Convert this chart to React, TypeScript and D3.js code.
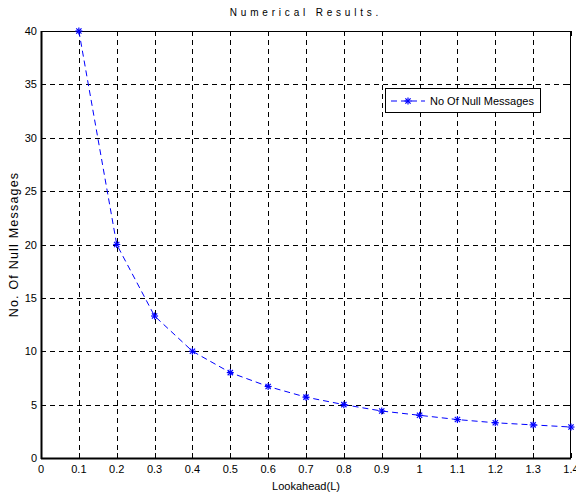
import React from 'react';
import * as d3 from 'd3';

// data
const lookahead = [0.1, 0.2, 0.3, 0.4, 0.5, 0.6, 0.7, 0.8, 0.9, 1.0, 1.1, 1.2, 1.3, 1.4];
const nullMessages = [40, 20, 13.3, 10, 8, 6.7, 5.7, 5, 4.4, 4, 3.6, 3.3, 3.1, 2.9];
const xTicks = [0, 0.1, 0.2, 0.3, 0.4, 0.5, 0.6, 0.7, 0.8, 0.9, 1, 1.1, 1.2, 1.3, 1.4];
const yTicks = [0, 5, 10, 15, 20, 25, 30, 35, 40];

const W = 576;
const H = 496;
const margin = { left: 41, right: 5, top: 31, bottom: 38 };
const font = '"Liberation Sans", Arial, sans-serif';
const blue = '#0000ff';

const x = d3.scaleLinear().domain([0, 1.4]).range([margin.left, W - margin.right]);
const y = d3.scaleLinear().domain([0, 40]).range([H - margin.bottom, margin.top]);

function Star({ cx, cy, r = 3.5 }: { cx: number; cy: number; r?: number }) {
  const d = r * 0.75;
  return (
    <g stroke={blue} strokeWidth={1.2}>
      <line x1={cx - r} y1={cy} x2={cx + r} y2={cy} />
      <line x1={cx} y1={cy - r} x2={cx} y2={cy + r} />
      <line x1={cx - d} y1={cy - d} x2={cx + d} y2={cy + d} />
      <line x1={cx - d} y1={cy + d} x2={cx + d} y2={cy - d} />
    </g>
  );
}

export default function App() {
  const x0 = x.range()[0], x1 = x.range()[1];
  const y0 = y.range()[0], y1 = y.range()[1];
  const line = d3.line<number>()
    .x((_, i) => x(lookahead[i]))
    .y((v) => y(v));
  const tk = 5;

  return (
    <svg width={W} height={H} style={{ position: 'absolute', left: 0, top: 0, background: '#fff' }}
      fontFamily={font}>
      <rect x={0} y={0} width={W} height={H} fill="#fff" />

      {/* grid */}
      <g stroke="#000" strokeWidth={1} strokeDasharray="5,4" fill="none">
        {xTicks.slice(1, -1).map((t) => (
          <line key={'gx' + t} x1={Math.round(x(t)) + 0.5} x2={Math.round(x(t)) + 0.5} y1={y1} y2={y0} />
        ))}
        {yTicks.slice(1, -1).map((t) => (
          <line key={'gy' + t} x1={x0} x2={x1} y1={Math.round(y(t)) + 0.5} y2={Math.round(y(t)) + 0.5} />
        ))}
      </g>

      {/* ticks */}
      <g stroke="#000" strokeWidth={1}>
        {xTicks.map((t) => {
          const px = Math.round(x(t)) + 0.5;
          return (
            <g key={'tx' + t}>
              <line x1={px} x2={px} y1={y0} y2={y0 - tk} />
              <line x1={px} x2={px} y1={y1} y2={y1 + tk} />
            </g>
          );
        })}
        {yTicks.map((t) => {
          const py = Math.round(y(t)) + 0.5;
          return (
            <g key={'ty' + t}>
              <line x1={x0} x2={x0 + tk} y1={py} y2={py} />
              <line x1={x1} x2={x1 - tk} y1={py} y2={py} />
            </g>
          );
        })}
      </g>

      {/* frame */}
      <rect x={x0 + 0.5} y={y1 + 0.5} width={x1 - x0 - 1} height={y0 - y1} fill="none" stroke="#000" strokeWidth={1} />
      <line x1={x0} x2={x1} y1={y0 + 0.5} y2={y0 + 0.5} stroke="#000" strokeWidth={2} />
      <line x1={x0 + 0.5} x2={x0 + 0.5} y1={y1} y2={y0 + 1} stroke="#000" strokeWidth={2} />

      {/* tick labels */}
      <g fontSize={11} fill="#000">
        {xTicks.map((t) => (
          <text key={'lx' + t} x={x(t)} y={y0 + 15} textAnchor="middle">{String(t)}</text>
        ))}
        {yTicks.map((t) => (
          <text key={'ly' + t} x={x0 - 4} y={y(t) + 4} textAnchor="end">{t}</text>
        ))}
      </g>

      {/* series */}
      <path d={line(nullMessages) || ''} fill="none" stroke={blue} strokeWidth={1} strokeDasharray="6,4" />
      {nullMessages.map((v, i) => (
        <Star key={'p' + i} cx={x(lookahead[i])} cy={y(v)} />
      ))}

      {/* titles */}
      <text x={(x0 + x1) / 2} y={16} textAnchor="middle" fontSize={10} letterSpacing={3.8}>Numerical Results.</text>
      <text x={(x0 + x1) / 2} y={490} textAnchor="middle" fontSize={11}>Lookahead(L)</text>
      <text transform={`translate(18, ${(y0 + y1) / 2}) rotate(-90)`} textAnchor="middle" fontSize={12.5} letterSpacing={1.2}>No. Of Null Messages</text>

      {/* legend */}
      <g>
        <rect x={385.5} y={88.5} width={155} height={24} fill="#fff" stroke="#000" strokeWidth={1} />
        <line x1={391} x2={425} y1={101} y2={101} stroke={blue} strokeWidth={1} strokeDasharray="6,4" />
        <Star cx={408} cy={101} />
        <text x={430} y={105} fontSize={11}>No Of Null Messages</text>
      </g>
    </svg>
  );
}
